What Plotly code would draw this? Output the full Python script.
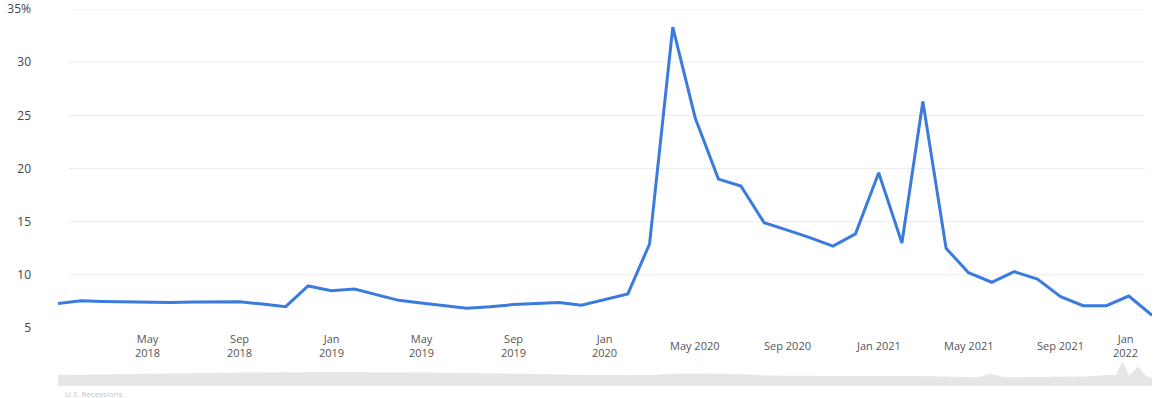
import plotly.graph_objects as go
import pandas as pd

# ---- data ----
months = pd.date_range("2018-01-01", "2022-01-01", freq="MS")
saving_rate = [
    7.3, 7.55, 7.5, 7.45, 7.4, 7.4, 7.45, 7.45, 7.47, 7.25, 7.0, 8.95,   # 2018
    8.5, 8.67, 8.15, 7.6, 7.35, 7.1, 6.85, 7.0, 7.2, 7.3, 7.4, 7.15,     # 2019
    7.7, 8.2, 12.9, 33.3, 24.75, 19.0, 18.35, 14.9, 14.2, 13.5, 12.7, 13.85,  # 2020
    19.6, 13.0, 26.3, 12.5, 10.2, 9.3, 10.3, 9.6, 7.95, 7.1, 7.1, 8.0,  # 2021
    6.2,                                                                  # 2022
]

y_tick_vals = [5, 10, 15, 20, 25, 30, 35]
y_tick_text = ["5", "10", "15", "20", "25", "30", "35%"]

x_tick_dates = ["2018-05-01", "2018-09-01", "2019-01-01", "2019-05-01", "2019-09-01",
                "2020-01-01", "2020-05-01", "2020-09-01", "2021-01-01", "2021-05-01",
                "2021-09-01", "2022-01-01"]
x_tick_text = ["May<br>2018", "Sep<br>2018", "Jan<br>2019", "May<br>2019", "Sep<br>2019",
               "Jan<br>2020", "May 2020", "Sep 2020", "Jan 2021", "May 2021",
               "Sep 2021", "Jan<br>2022"]

# navigator (overview strip) levels
nav_years = [1959, 1965, 1970, 1975, 1980, 1985, 1990, 1993, 1995, 1998, 2000, 2005,
             2008, 2010, 2012, 2012.7, 2013.5, 2015, 2018, 2019.5, 2019.9, 2020.3,
             2020.7, 2021.2, 2021.6, 2022]
nav_levels = [11, 12.5, 13.5, 14, 13.5, 12.5, 11, 11, 12.5, 12, 10.5, 10,
              10, 9.5, 9, 12, 9, 9, 9.5, 11, 11, 24,
              11, 19, 11, 8]

LINE_COLOR = "#3b7bdd"
FONT = "Open Sans"

fig = go.Figure()

fig.add_trace(go.Scatter(
    x=months, y=saving_rate, mode="lines",
    line=dict(color=LINE_COLOR, width=3),
    xaxis="x", yaxis="y", showlegend=False, hoverinfo="x+y",
))

fig.add_trace(go.Scatter(
    x=nav_years, y=nav_levels, mode="lines",
    line=dict(color="#e3e3e3", width=0, shape="spline", smoothing=0.6),
    fill="tozeroy", fillcolor="#e6e6e6",
    xaxis="x2", yaxis="y2", showlegend=False, hoverinfo="skip",
))

# grid lines
for v in y_tick_vals[1:]:
    fig.add_shape(type="line", xref="x domain", yref="y",
                  x0=0.01, x1=0.9936, y0=v, y1=v,
                  line=dict(color="#ececec", width=1), layer="below")

# x tick labels
for d, t in zip(x_tick_dates, x_tick_text):
    fig.add_annotation(
        x=d, y=0.1362, xref="x", yref="paper", text=t, showarrow=False,
        xanchor="center", yanchor="middle",
        xshift=-27 if d == "2022-01-01" else 0,
        font=dict(family=FONT, size=11, color="#555555"),
    )

fig.add_annotation(
    x=0.005, y=0.012, xref="paper", yref="paper", text="U.S. Recessions",
    showarrow=False, xanchor="left", yanchor="middle",
    font=dict(family=FONT, size=8, color="#c4c4c4"),
)

fig.update_layout(
    template="none",
    width=1154, height=398,
    margin=dict(l=58, r=2, t=9, b=0, pad=0, autoexpand=False),
    paper_bgcolor="white", plot_bgcolor="white",
    font=dict(family=FONT, color="#444444"),
    xaxis=dict(
        range=["2018-01-01", "2022-01-01"], domain=[0, 1],
        showgrid=False, zeroline=False, showline=False, showticklabels=False,
        anchor="y", automargin=False, ticks="",
    ),
    yaxis=dict(
        range=[5, 35], domain=[0.18, 1],
        tickvals=y_tick_vals, ticktext=y_tick_text,
        showgrid=False, zeroline=False, showline=False,
        ticks="", ticklabelstandoff=26, automargin=False,
        tickfont=dict(family=FONT, size=12, color="#444444"),
        anchor="x",
    ),
    xaxis2=dict(
        range=[1959, 2022], domain=[0, 1], anchor="y2", automargin=False,
        showgrid=False, zeroline=False, showline=False, showticklabels=False, ticks="",
    ),
    yaxis2=dict(
        range=[0, 24], domain=[0.0308, 0.0925], anchor="x2", automargin=False,
        showgrid=False, zeroline=False, showline=False, showticklabels=False, ticks="",
    ),
)

fig.write_html("out.html")
